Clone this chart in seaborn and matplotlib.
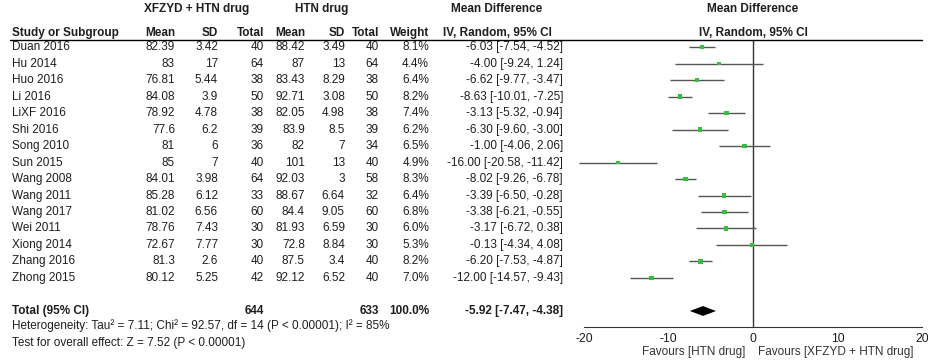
import matplotlib
matplotlib.use("Agg")
import matplotlib.pyplot as plt
import matplotlib.transforms as mtransforms
from matplotlib.lines import Line2D
import pandas as pd
import seaborn as sns

# --- datos ---
studies = ["Duan 2016", "Hu 2014", "Huo 2016", "Li 2016", "LiXF 2016", "Shi 2016",
           "Song 2010", "Sun 2015", "Wang 2008", "Wang 2011", "Wang 2017", "Wei 2011",
           "Xiong 2014", "Zhang 2016", "Zhong 2015"]
exp_mean = [82.39, 83, 76.81, 84.08, 78.92, 77.6, 81, 85, 84.01, 85.28, 81.02, 78.76, 72.67, 81.3, 80.12]
exp_sd = [3.42, 17, 5.44, 3.9, 4.78, 6.2, 6, 7, 3.98, 6.12, 6.56, 7.43, 7.77, 2.6, 5.25]
exp_n = [40, 64, 38, 50, 38, 39, 36, 40, 64, 33, 60, 30, 30, 40, 42]
ctl_mean = [88.42, 87, 83.43, 92.71, 82.05, 83.9, 82, 101, 92.03, 88.67, 84.4, 81.93, 72.8, 87.5, 92.12]
ctl_sd = [3.49, 13, 8.29, 3.08, 4.98, 8.5, 7, 13, 3, 6.64, 9.05, 6.59, 8.84, 3.4, 6.52]
ctl_n = [40, 64, 38, 50, 38, 39, 34, 40, 58, 32, 60, 30, 30, 40, 40]
weight = [8.1, 4.4, 6.4, 8.2, 7.4, 6.2, 6.5, 4.9, 8.3, 6.4, 6.8, 6.0, 5.3, 8.2, 7.0]
md = [-6.03, -4.00, -6.62, -8.63, -3.13, -6.30, -1.00, -16.00, -8.02, -3.39, -3.38, -3.17, -0.13, -6.20, -12.00]
ci_lo = [-7.54, -9.24, -9.77, -10.01, -5.32, -9.60, -4.06, -20.58, -9.26, -6.50, -6.21, -6.72, -4.34, -7.53, -14.57]
ci_hi = [-4.52, 1.24, -3.47, -7.25, -0.94, -3.00, 2.06, -11.42, -6.78, -0.28, -0.55, 0.38, 4.08, -4.87, -9.43]

total_exp_n = 644
total_ctl_n = 633
total_weight = 100.0
total_md = -5.92
total_lo = -7.47
total_hi = -4.38
heterogeneity = "Heterogeneity: Tau² = 7.11; Chi² = 92.57, df = 14 (P < 0.00001); I² = 85%"
overall_test = "Test for overall effect: Z = 7.52 (P < 0.00001)"
ticks = [-20, -10, 0, 10, 20]

df = pd.DataFrame({"study": studies, "md": md, "lo": ci_lo, "hi": ci_hi, "weight": weight})
df["row"] = range(len(df))
total_row = len(df) + 1

sns.set_style("white")
plt.rcParams["font.family"] = ["Liberation Sans", "DejaVu Sans"]
plt.rcParams["axes.unicode_minus"] = False

W, H = 929, 360
fig = plt.figure(figsize=(W / 100, H / 100), dpi=100)


def fx(px):
    return px / W


def fy(py):
    return 1 - py / H


# panel del forest plot (pixeles medidos en la referencia)
ax = fig.add_axes([fx(584), fy(327), fx(922) - fx(584), fy(39.5) - fy(327)])
ax.set_xlim(-20, 20)
ax.set_ylim(16.97, -0.455)

green = "#2fc23c"
line_col = "#555555"
txt = "#1e1e1e"
fs = 8.5

ax.hlines(df["row"], df["lo"], df["hi"], color=line_col, lw=1, clip_on=False, zorder=2)
sns.scatterplot(data=df, x="md", y="row", size="weight", sizes=(6, 12), marker="s",
                color=green, linewidth=0, legend=False, ax=ax, clip_on=False, zorder=3)
ax.axvline(0, color="#333333", lw=1, zorder=1)

h = 0.3
ax.fill([total_lo, total_md, total_hi, total_md],
        [total_row, total_row - h, total_row, total_row + h], color="black", lw=0, zorder=3)

for s in ["top", "right", "left"]:
    ax.spines[s].set_visible(False)
ax.spines["bottom"].set_color("#333333")
ax.set_xticks(ticks)
ax.set_xticklabels([str(t) for t in ticks])
ax.set_yticks([])
ax.set_xlabel("")
ax.set_ylabel("")
ax.tick_params(axis="x", direction="inout", length=7, width=1, color="#333333",
               labelsize=8.8, labelcolor=txt, pad=1)

trans_fig_x = mtransforms.blended_transform_factory(fig.transFigure, ax.transData)
trans_ax_x = mtransforms.blended_transform_factory(ax.transData, fig.transFigure)

ax.text(-0.95, fy(352.5), "Favours [HTN drug]", transform=trans_ax_x, ha="right", va="center",
        fontsize=fs, color="#333333")
ax.text(0.6, fy(352.5), "Favours [XFZYD + HTN drug]", transform=trans_ax_x, ha="left", va="center",
        fontsize=fs, color="#333333")

# columnas de la tabla
col_x = {"study": 12, "em": 175, "esd": 218, "en": 264, "cm": 305, "csd": 345, "cn": 379,
         "w": 429, "ci": 563}


def put(x, y, s, ha="right", bold=False):
    ax.text(fx(x), y, s, transform=trans_fig_x, ha=ha, va="center", fontsize=fs, color=txt,
            fontweight="bold" if bold else "normal", clip_on=False)


head1 = -2.3
head2 = -0.85
put(197, head1, "XFZYD + HTN drug", ha="center", bold=True)
put(322, head1, "HTN drug", ha="center", bold=True)
put(497, head1, "Mean Difference", ha="center", bold=True)
put(753, head1, "Mean Difference", ha="center", bold=True)
put(col_x["study"], head2, "Study or Subgroup", ha="left", bold=True)
put(col_x["em"], head2, "Mean", bold=True)
put(col_x["esd"], head2, "SD", bold=True)
put(col_x["en"], head2, "Total", bold=True)
put(col_x["cm"], head2, "Mean", bold=True)
put(col_x["csd"], head2, "SD", bold=True)
put(col_x["cn"], head2, "Total", bold=True)
put(col_x["w"], head2, "Weight", bold=True)
put(497, head2, "IV, Random, 95% CI", ha="center", bold=True)
put(753, head2, "IV, Random, 95% CI", ha="center", bold=True)

for i in range(len(studies)):
    put(col_x["study"], i, studies[i], ha="left")
    put(col_x["em"], i, f"{exp_mean[i]:g}")
    put(col_x["esd"], i, f"{exp_sd[i]:g}")
    put(col_x["en"], i, str(exp_n[i]))
    put(col_x["cm"], i, f"{ctl_mean[i]:g}")
    put(col_x["csd"], i, f"{ctl_sd[i]:g}")
    put(col_x["cn"], i, str(ctl_n[i]))
    put(col_x["w"], i, f"{weight[i]:.1f}%")
    put(col_x["ci"], i, f"{md[i]:.2f} [{ci_lo[i]:.2f}, {ci_hi[i]:.2f}]")

put(col_x["study"], total_row, "Total (95% CI)", ha="left", bold=True)
put(col_x["en"], total_row, str(total_exp_n), bold=True)
put(col_x["cn"], total_row, str(total_ctl_n), bold=True)
put(col_x["w"], total_row, f"{total_weight:.1f}%", bold=True)
put(col_x["ci"], total_row, f"{total_md:.2f} [{total_lo:.2f}, {total_hi:.2f}]", bold=True)
put(col_x["study"], 16.9, heterogeneity, ha="left")
put(col_x["study"], 17.95, overall_test, ha="left")

fig.add_artist(Line2D([fx(10), fx(922)], [fy(39.5), fy(39.5)], transform=fig.transFigure,
                      color="black", lw=1))

fig.savefig("out.png", dpi=100)
